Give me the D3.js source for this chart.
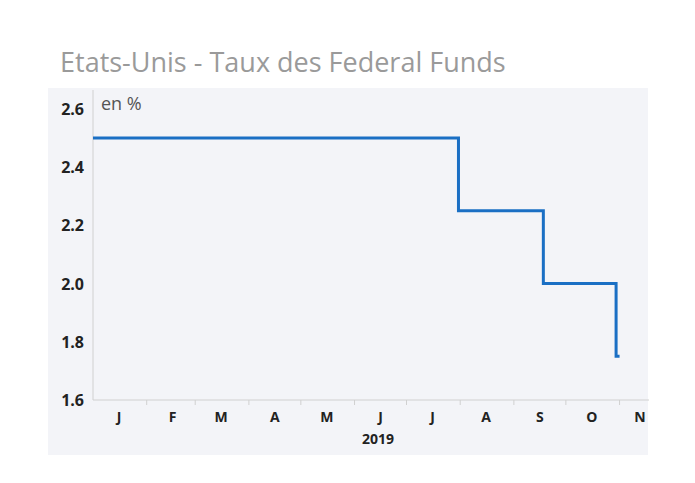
<!DOCTYPE html>
<html><head><meta charset="utf-8">
<script src="https://cdn.jsdelivr.net/npm/d3@7"></script>
<style>body{margin:0;background:#fff}text{font-family:"Open Sans",sans-serif}</style>
</head><body><svg id="c" width="695" height="483"></svg>
<script>
// step dates and rate levels (%)
var dates = ["2019-01-01", "2019-07-31", "2019-07-31", "2019-09-18", "2019-09-18", "2019-10-30", "2019-10-30", "2019-11-01"];
var rates = [2.5, 2.5, 2.25, 2.25, 2.0, 2.0, 1.75, 1.75];
var monthLabels = ["J", "F", "M", "A", "M", "J", "J", "A", "S", "O", "N"];
var yTicks = [1.6, 1.8, 2.0, 2.2, 2.4, 2.6];

var svg = d3.select("#c");
var parse = d3.timeParse("%Y-%m-%d");
var data = dates.map(function(d, i) { return {x: parse(d), y: rates[i]}; });

svg.append("rect").attr("x", 48).attr("y", 88).attr("width", 600).attr("height", 367).attr("fill", "#f3f4f8");
svg.append("text").attr("x", 60).attr("y", 72).attr("font-size", 27).attr("fill", "#9a9a9a")
	.text("Etats-Unis - Taux des Federal Funds");

var x = d3.scaleTime().domain([new Date(2019, 0, 1), new Date(2019, 10, 18)]).range([93, 649]);
var y = d3.scaleLinear().domain([1.6, 2.6]).range([400, 109]);

// axes
svg.append("line").attr("x1", 93).attr("x2", 93).attr("y1", 90).attr("y2", 400).attr("stroke", "#d0d0d0");
svg.append("line").attr("x1", 93).attr("x2", 649).attr("y1", 400).attr("y2", 400).attr("stroke", "#d0d0d0");

yTicks.forEach(function(t) {
	svg.append("text").attr("x", 84).attr("y", y(t) + 6).attr("text-anchor", "end")
		.attr("font-size", 16).attr("font-weight", "bold").attr("fill", "#222").text(t.toFixed(1));
});
svg.append("text").attr("x", 101).attr("y", 110).attr("font-size", 18).attr("fill", "#555").text("en %");

monthLabels.forEach(function(m, i) {
	var s = new Date(2019, i, 1);
	if (i > 0) svg.append("line").attr("x1", x(s)).attr("x2", x(s)).attr("y1", 400).attr("y2", 405).attr("stroke", "#d0d0d0");
	var mid = i < 10 ? x(new Date(2019, i, 16)) : 640;
	svg.append("text").attr("x", mid).attr("y", 422).attr("text-anchor", "middle")
		.attr("font-size", 14).attr("font-weight", "bold").attr("fill", "#222").text(m);
});
svg.append("text").attr("x", 378).attr("y", 444).attr("text-anchor", "middle")
	.attr("font-size", 14).attr("font-weight", "bold").attr("fill", "#222").text("2019");

var line = d3.line().x(function(d) { return x(d.x); }).y(function(d) { return y(d.y); });
svg.append("path").datum(data).attr("d", line).attr("fill", "none")
	.attr("stroke", "#1a6fc4").attr("stroke-width", 3);
</script></body></html>
